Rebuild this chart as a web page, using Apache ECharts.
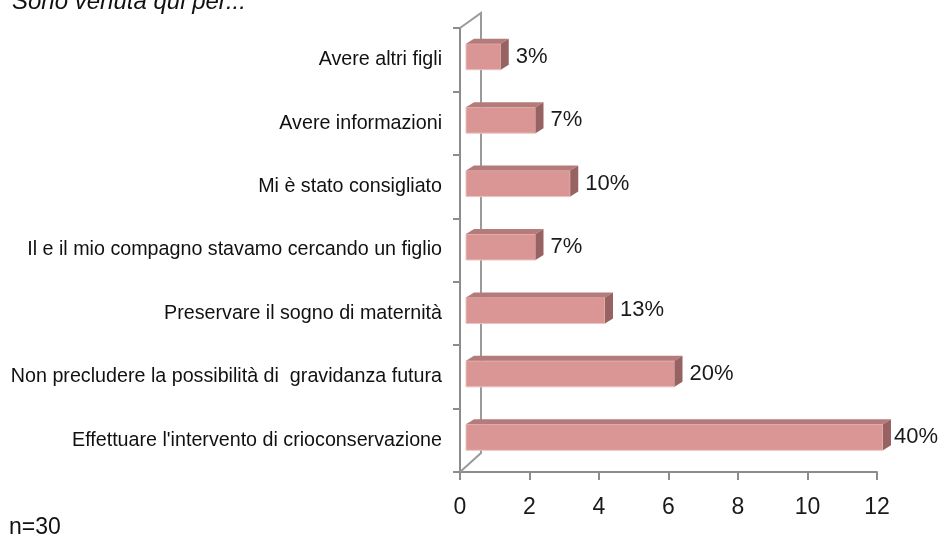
<!DOCTYPE html>
<html>
<head>
<meta charset="utf-8">
<script src="https://cdn.jsdelivr.net/npm/echarts@6/dist/echarts.min.js"></script>
<style>
  html, body { margin: 0; padding: 0; background: #fff; }
  #chart { width: 944px; height: 540px; }
</style>
</head>
<body>
<div id="chart"></div>
<script>
var categories = [
  'Avere altri figli',
  'Avere informazioni',
  'Mi è stato consigliato',
  'Il e il mio compagno stavamo cercando un figlio',
  'Preservare il sogno di maternità',
  'Non precludere la possibilità di  gravidanza futura',
  "Effettuare l'intervento di crioconservazione"
];
var counts = [1, 2, 3, 2, 4, 6, 12];
var pctLabels = ['3%', '7%', '10%', '7%', '13%', '20%', '40%'];
var xTicks = [0, 2, 4, 6, 8, 10, 12];

var gridLeft = 460, gridRight = 67, gridTop = 28, gridBottom = 68;
var axisGrey = '#8c8c8c';
var font = 'Liberation Sans, Arial, sans-serif';

var chart = echarts.init(document.getElementById('chart'), null, { renderer: 'canvas' });

function renderBar(params, api) {
  var v = api.value(0), c = api.value(1);
  var p0 = api.coord([0, c]);
  var p1 = api.coord([v, c]);
  var band = api.size([0, 1])[1];
  var h = band * 0.41;
  var xl = p0[0] + 6, xr = p1[0] + 6;
  var yc = p0[1] - 3;
  var yt = yc - h / 2, yb = yc + h / 2;
  var dx = 8, dy = 5;
  var lx = Math.min(xr + 15, api.getWidth() - 50);
  return {
    type: 'group',
    children: [
      { type: 'rect', shape: { x: xl, y: yt, width: xr - xl, height: h },
        style: { fill: '#d99694', stroke: '#eac3c2', lineWidth: 1 } },
      { type: 'polygon', shape: { points: [[xl, yt], [xl + dx, yt - dy], [xr + dx, yt - dy], [xr, yt]] },
        style: { fill: '#b57b7a' } },
      { type: 'polygon', shape: { points: [[xr, yt], [xr + dx, yt - dy], [xr + dx, yb - dy], [xr, yb]] },
        style: { fill: '#976362' } },
      { type: 'text', style: { text: pctLabels[params.dataIndex], x: lx, y: yc,
        verticalAlign: 'middle', align: 'left', fill: '#1a1a1a', font: '22px ' + font } }
    ]
  };
}

var option = {
  animation: false,
  backgroundColor: '#fff',
  grid: { left: gridLeft, right: gridRight, top: gridTop, bottom: gridBottom },
  xAxis: {
    type: 'value', min: 0, max: 12, interval: 2,
    axisLine: { show: true, lineStyle: { color: axisGrey, width: 2 } },
    axisTick: { show: true, length: 8, lineStyle: { color: axisGrey, width: 2 } },
    splitLine: { show: false },
    axisLabel: { color: '#1a1a1a', fontSize: 23, fontFamily: font, margin: 24,
      formatter: function (val) { return xTicks.indexOf(val) >= 0 ? String(val) : ''; } }
  },
  yAxis: {
    type: 'category', data: categories, inverse: true,
    axisLine: { show: true, lineStyle: { color: axisGrey, width: 2 } },
    axisTick: { show: true, length: 7, lineStyle: { color: axisGrey, width: 2 } },
    axisLabel: { color: '#111', fontSize: 19.7, fontFamily: font, margin: 18 }
  },
  series: [{
    type: 'custom',
    renderItem: renderBar,
    encode: { x: 0, y: 1 },
    data: counts.map(function (v, i) { return [v, i]; }),
    z: 10
  }]
};

chart.setOption(option);

// 3D back-wall outline
var x0 = chart.convertToPixel({ xAxisIndex: 0 }, 0);
var yT = gridTop, yB = chart.getHeight() - gridBottom;
chart.setOption({
  graphic: [
    { type: 'polyline', z: 1,
      shape: { points: [[x0, yT], [x0 + 21, yT - 15], [x0 + 21, yB - 19], [x0, yB]] },
      style: { stroke: '#9a9a9a', lineWidth: 2, fill: null } },
    { type: 'text', left: 12, top: -10,
      style: { text: 'Sono venuta qui per...', font: 'italic 24px ' + font, fill: '#111' } },
    { type: 'text', left: 9, top: 516,
      style: { text: 'n=30', font: '23px ' + font, fill: '#111' } }
  ]
});

window.addEventListener('resize', chart.resize);
</script>
</body>
</html>
